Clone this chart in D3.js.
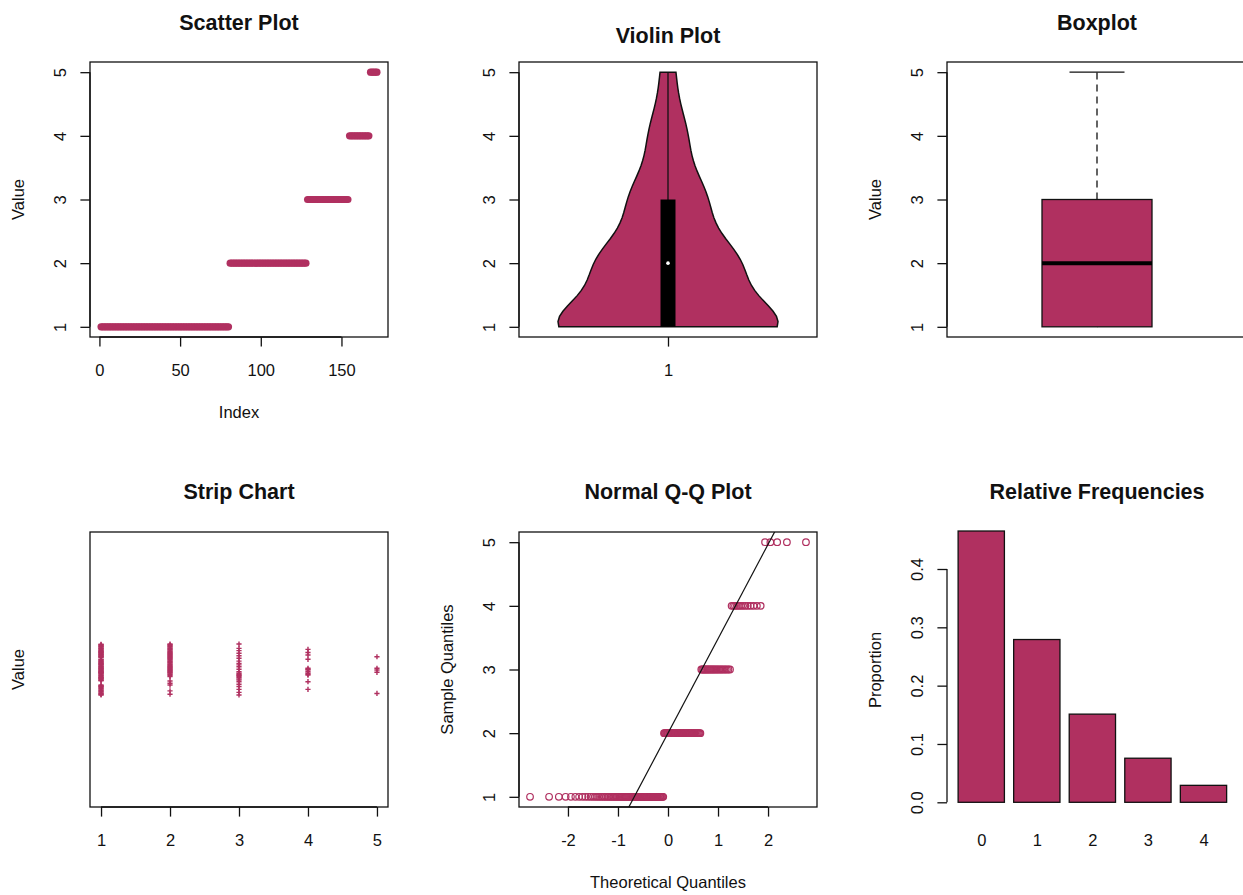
<!DOCTYPE html>
<html>
<head>
<meta charset="utf-8">
<script src="https://cdn.jsdelivr.net/npm/d3@7"></script>
<style>
  body { margin: 0; background: #fff; }
  svg { display: block; font-family: "Liberation Sans", Arial, sans-serif; }
</style>
</head>
<body>
<svg id="chart" width="1243" height="895"></svg>
<script>
// Observed values and how often each occurs (the series is stored in sorted order)
const levels = [1, 2, 3, 4, 5];
const counts = [80, 48, 26, 13, 5];

// Vertical jitter of the strip-chart markers, one list per level
const jitter1 = [0.099, 0.097, 0.094, 0.092, 0.090, 0.088, 0.085, 0.083, 0.081, 0.079,
  0.076, 0.074, 0.072, 0.069, 0.067, 0.065, 0.062, 0.060, 0.058, 0.055,
  0.053, 0.051, 0.049, 0.047, 0.040, 0.038, 0.035, 0.033, 0.031, 0.028,
  0.026, 0.024, 0.021, 0.019, 0.017, 0.014, 0.012, 0.010, 0.007, 0.005,
  0.003, 0.000, -0.002, -0.004, -0.007, -0.009, -0.011, -0.014, -0.016, -0.018,
  -0.021, -0.023, -0.025, -0.028, -0.030, -0.032, -0.035, -0.037, -0.039, -0.042,
  -0.044, -0.061, -0.064, -0.066, -0.068, -0.071, -0.074, -0.077, -0.080, -0.083,
  -0.086, -0.089, -0.092, -0.095, -0.098, -0.100, 0.070, 0.022, -0.012, -0.033];
const jitter2 = [0.100, 0.097, 0.094, 0.091, 0.088, 0.085, 0.082, 0.079, 0.076, 0.073,
  0.070, 0.067, 0.064, 0.061, 0.058, 0.055, 0.052, 0.049, 0.046, 0.043,
  0.040, 0.037, 0.034, 0.031, 0.028, 0.025, 0.022, 0.019, 0.016, 0.013,
  0.010, 0.007, 0.004, 0.001, -0.002, -0.005, -0.008, -0.011, -0.014, -0.017,
  -0.020, -0.024, -0.028, -0.045, -0.054, -0.061, -0.084, -0.097];
const jitter3 = [0.100, 0.083, 0.074, 0.064, 0.054, 0.044, 0.033, 0.024, 0.018, 0.011,
  0.001, -0.009, -0.015, -0.019, -0.022, -0.024, -0.028, -0.032, -0.037, -0.041,
  -0.048, -0.058, -0.067, -0.078, -0.090, -0.100];
const jitter4 = [0.079, 0.067, 0.057, 0.040, 0.005, 0.001, -0.002, -0.009, -0.015, -0.019,
  -0.022, -0.048, -0.078];
const jitter5 = [0.050, 0.005, -0.002, -0.011, -0.094];

// Tick values and labels
const indexTicks = [0, 50, 100, 150];
const valueTicks = [1, 2, 3, 4, 5];
const qqTicks = [-2, -1, 0, 1, 2];
const propTicks = [0, 0.1, 0.2, 0.3, 0.4];
const barLabels = ["0", "1", "2", "3", "4"];

const FILL = "#B03060";
const INK = "#111";
const TICK = 9.6;
const FS = 16.5;      // tick labels and axis titles
const FS_TITLE = 21.5;

// Panel grid
const colX = [90, 519, 947];
const rowY = [62, 532];
const PW = 298, PH = 275;

const svg = d3.select("#chart");

// Expanded, sorted series
const sample = levels.flatMap((v, i) => Array(counts[i]).fill(v));
const n = sample.length;
const jitters = [jitter1, jitter2, jitter3, jitter4, jitter5];
const plain = d => String(d);   // ASCII hyphen for negatives

function padded(lo, hi) {
  const p = 0.04 * (hi - lo);
  return [lo - p, hi + p];
}

function frame(x0, y0, w, h) {
  svg.append("rect").attr("x", x0).attr("y", y0).attr("width", w).attr("height", h)
    .attr("fill", "none").attr("stroke", INK).attr("stroke-width", 1.3);
}

function title(text, cx, baseline) {
  svg.append("text").attr("x", cx).attr("y", baseline).attr("text-anchor", "middle")
    .attr("font-weight", "bold").attr("font-size", FS_TITLE).attr("fill", INK).text(text);
}

function yTitle(text, axisX, cy) {
  svg.append("text").attr("transform", `translate(${axisX - 66},${cy}) rotate(-90)`)
    .attr("text-anchor", "middle").attr("font-size", FS).attr("fill", INK).text(text);
}

function xTitle(text, cx, axisY) {
  svg.append("text").attr("x", cx).attr("y", axisY + 81).attr("text-anchor", "middle")
    .attr("font-size", FS).attr("fill", INK).text(text);
}

// Left axis with labels parallel to the axis, line spanning first..last tick
function leftAxis(scale, ticks, x, fmt) {
  const g = svg.append("g").attr("transform", `translate(${x},0)`)
    .call(d3.axisLeft(scale).tickValues(ticks).tickSize(TICK).tickFormat(fmt || plain));
  g.select(".domain").remove();
  g.selectAll(".tick line").attr("stroke", INK).attr("stroke-width", 1.3);
  g.selectAll(".tick text").attr("x", null).attr("dy", null)
    .attr("transform", "translate(-24,0) rotate(-90)")
    .attr("text-anchor", "middle").attr("font-size", FS).attr("font-family", null).attr("fill", INK);
  g.append("line").attr("y1", scale(ticks[0])).attr("y2", scale(ticks[ticks.length - 1]))
    .attr("stroke", INK).attr("stroke-width", 1.3);
  return g;
}

function bottomAxis(scale, ticks, y, fmt, noTicks) {
  const g = svg.append("g").attr("transform", `translate(0,${y})`)
    .call(d3.axisBottom(scale).tickValues(ticks).tickSize(noTicks ? 0 : TICK).tickFormat(fmt || plain));
  g.select(".domain").remove();
  g.selectAll(".tick line").attr("stroke", INK).attr("stroke-width", 1.3);
  g.selectAll(".tick text").attr("y", 39).attr("dy", null)
    .attr("font-size", FS).attr("font-family", null).attr("fill", INK);
  if (!noTicks) {
    g.append("line").attr("x1", scale(ticks[0])).attr("x2", scale(ticks[ticks.length - 1]))
      .attr("stroke", INK).attr("stroke-width", 1.3);
  }
  return g;
}

// Inverse standard normal CDF (Acklam's rational approximation)
function qnorm(p) {
  const a = [-3.969683028665376e+01, 2.209460984245205e+02, -2.759285104469687e+02,
    1.383577518672690e+02, -3.066479806614716e+01, 2.506628277459239e+00];
  const b = [-5.447609879822406e+01, 1.615858368580409e+02, -1.556989798598866e+02,
    6.680131188771972e+01, -1.328068155288572e+01];
  const c = [-7.784894002430293e-03, -3.223964580411365e-01, -2.400758277161838e+00,
    -2.549732539343734e+00, 4.374664141464968e+00, 2.938163982698783e+00];
  const d = [7.784695709041462e-03, 3.224671290700398e-01, 2.445134137142996e+00,
    3.754408661907416e+00];
  const pl = 0.02425, ph = 1 - pl;
  let q, r;
  if (p < pl) {
    q = Math.sqrt(-2 * Math.log(p));
    return (((((c[0] * q + c[1]) * q + c[2]) * q + c[3]) * q + c[4]) * q + c[5]) /
      ((((d[0] * q + d[1]) * q + d[2]) * q + d[3]) * q + 1);
  }
  if (p > ph) {
    q = Math.sqrt(-2 * Math.log(1 - p));
    return -(((((c[0] * q + c[1]) * q + c[2]) * q + c[3]) * q + c[4]) * q + c[5]) /
      ((((d[0] * q + d[1]) * q + d[2]) * q + d[3]) * q + 1);
  }
  q = p - 0.5; r = q * q;
  return (((((a[0] * r + a[1]) * r + a[2]) * r + a[3]) * r + a[4]) * r + a[5]) * q /
    (((((b[0] * r + b[1]) * r + b[2]) * r + b[3]) * r + b[4]) * r + 1);
}

// ---------- Scatter plot ----------
{
  const x0 = colX[0], y0 = rowY[0];
  const x = d3.scaleLinear().domain(padded(1, n)).range([x0, x0 + PW]);
  const y = d3.scaleLinear().domain(padded(1, 5)).range([y0 + PH, y0]);
  svg.append("g").selectAll("circle").data(sample).join("circle")
    .attr("cx", (d, i) => x(i + 1)).attr("cy", d => y(d)).attr("r", 3.6).attr("fill", FILL);
  frame(x0, y0, PW, PH);
  leftAxis(y, valueTicks, x0);
  bottomAxis(x, indexTicks, y0 + PH);
  title("Scatter Plot", x0 + PW / 2, 30);
  yTitle("Value", x0, y0 + PH / 2);
  xTitle("Index", x0 + PW / 2, y0 + PH);
}

// ---------- Violin plot ----------
{
  const x0 = colX[1], y0 = rowY[0];
  const cx = x0 + PW / 2;
  const y = d3.scaleLinear().domain(padded(1, 5)).range([y0 + PH, y0]);
  // Gaussian kernel density, normal-reference bandwidth, evaluated on 50 points
  const h = 1.1 * d3.deviation(sample) * Math.pow(4 / (3 * n), 0.2);
  const lo = d3.min(sample), hi = d3.max(sample);
  const grid = d3.range(50).map(i => lo + (hi - lo) * i / 49);
  const dens = grid.map(g => d3.sum(sample, v => Math.exp(-0.5 * ((g - v) / h) ** 2)));
  const w = d3.scaleLinear().domain([0, d3.max(dens)]).range([0, 110]);
  const pts = grid.map((g, i) => ({ v: g, d: dens[i] }));
  svg.append("path").datum(pts)
    .attr("d", d3.area().x0(p => cx - w(p.d)).x1(p => cx + w(p.d)).y(p => y(p.v)))
    .attr("fill", FILL).attr("stroke", INK).attr("stroke-width", 1.5);
  const q1 = d3.quantile(sample, 0.25), q3 = d3.quantile(sample, 0.75), med = d3.median(sample);
  svg.append("line").attr("x1", cx).attr("x2", cx).attr("y1", y(lo)).attr("y2", y(hi))
    .attr("stroke", INK).attr("stroke-width", 1.3);
  svg.append("rect").attr("x", cx - 7.5).attr("width", 15).attr("y", y(q3)).attr("height", y(q1) - y(q3))
    .attr("fill", "#000");
  svg.append("circle").attr("cx", cx).attr("cy", y(med)).attr("r", 1.8).attr("fill", "#fff");
  frame(x0, y0, PW, PH);
  leftAxis(y, valueTicks, x0);
  const xs = d3.scaleLinear().domain([0.5, 1.5]).range([x0, x0 + PW]);
  bottomAxis(xs, [1], y0 + PH);
  title("Violin Plot", cx, 43);
}

// ---------- Boxplot ----------
{
  const x0 = colX[2], y0 = rowY[0];
  const cx = x0 + 150;
  const y = d3.scaleLinear().domain(padded(1, 5)).range([y0 + PH, y0]);
  const q1 = d3.quantile(sample, 0.25), q3 = d3.quantile(sample, 0.75), med = d3.median(sample);
  const iqr = q3 - q1;
  const upper = d3.max(sample.filter(v => v <= q3 + 1.5 * iqr));
  const lower = d3.min(sample.filter(v => v >= q1 - 1.5 * iqr));
  const bw = 110;
  svg.append("line").attr("x1", cx).attr("x2", cx).attr("y1", y(q3)).attr("y2", y(upper))
    .attr("stroke", INK).attr("stroke-width", 1.3).attr("stroke-dasharray", "7,5");
  svg.append("line").attr("x1", cx).attr("x2", cx).attr("y1", y(q1)).attr("y2", y(lower))
    .attr("stroke", INK).attr("stroke-width", 1.3).attr("stroke-dasharray", "7,5");
  svg.append("line").attr("x1", cx - bw / 4).attr("x2", cx + bw / 4).attr("y1", y(upper)).attr("y2", y(upper))
    .attr("stroke", INK).attr("stroke-width", 1.3);
  svg.append("rect").attr("x", cx - bw / 2).attr("width", bw).attr("y", y(q3)).attr("height", y(q1) - y(q3))
    .attr("fill", FILL).attr("stroke", INK).attr("stroke-width", 1.3);
  svg.append("line").attr("x1", cx - bw / 2).attr("x2", cx + bw / 2).attr("y1", y(med)).attr("y2", y(med))
    .attr("stroke", "#000").attr("stroke-width", 4);
  frame(x0, y0, PW + 2, PH);
  leftAxis(y, valueTicks, x0);
  title("Boxplot", cx, 30);
  yTitle("Value", x0, y0 + PH / 2);
}

// ---------- Strip chart ----------
{
  const x0 = colX[0], y0 = rowY[1];
  const x = d3.scaleLinear().domain(padded(1, 5)).range([x0, x0 + PW]);
  const y = d3.scaleLinear().domain([0.46, 1.54]).range([y0 + PH, y0]);
  const marks = levels.flatMap((v, i) => jitters[i].map(j => ({ v, j })));
  const g = svg.append("g").attr("stroke", FILL).attr("stroke-width", 1.4);
  g.selectAll("path").data(marks).join("path")
    .attr("d", m => {
      const px = x(m.v), py = y(1 + m.j), a = 2.6;
      return `M${px - a},${py}H${px + a}M${px},${py - a}V${py + a}`;
    });
  frame(x0, y0, PW, PH);
  bottomAxis(x, valueTicks, y0 + PH);
  title("Strip Chart", x0 + PW / 2, 499);
  yTitle("Value", x0, y0 + PH / 2);
}

// ---------- Normal Q-Q plot ----------
{
  const x0 = colX[1], y0 = rowY[1];
  const theo = sample.map((v, i) => qnorm((i + 0.5) / n));
  const x = d3.scaleLinear().domain(padded(...d3.extent(theo))).range([x0, x0 + PW]);
  const y = d3.scaleLinear().domain(padded(1, 5)).range([y0 + PH, y0]);
  svg.append("clipPath").attr("id", "qqclip").append("rect")
    .attr("x", x0).attr("y", y0).attr("width", PW).attr("height", PH);
  svg.append("g").selectAll("circle").data(sample).join("circle")
    .attr("cx", (d, i) => x(theo[i])).attr("cy", d => y(d)).attr("r", 3.3)
    .attr("fill", "none").attr("stroke", FILL).attr("stroke-width", 1.2);
  const yq = [d3.quantile(sample, 0.25), d3.quantile(sample, 0.75)];
  const xq = [qnorm(0.25), qnorm(0.75)];
  const slope = (yq[1] - yq[0]) / (xq[1] - xq[0]);
  const icpt = yq[0] - slope * xq[0];
  const xd = x.domain();
  svg.append("line").attr("clip-path", "url(#qqclip)")
    .attr("x1", x(xd[0])).attr("y1", y(icpt + slope * xd[0]))
    .attr("x2", x(xd[1])).attr("y2", y(icpt + slope * xd[1]))
    .attr("stroke", INK).attr("stroke-width", 1.2);
  frame(x0, y0, PW, PH);
  leftAxis(y, valueTicks, x0);
  bottomAxis(x, qqTicks, y0 + PH);
  title("Normal Q-Q Plot", x0 + PW / 2, 499);
  yTitle("Sample Quantiles", x0, y0 + PH / 2);
  xTitle("Theoretical Quantiles", x0 + PW / 2, y0 + PH);
}

// ---------- Relative frequencies ----------
{
  const x0 = colX[2];
  const rel = counts.map(c => c / n);
  // bars of width 1 separated by 0.2, as in a base bar plot
  const left = rel.map((r, i) => 0.2 + 1.2 * i);
  const x = d3.scaleLinear().domain(padded(0.2, 0.2 + 1.2 * rel.length)).range([x0, x0 + 300]);
  const y = d3.scaleLinear().domain([0, 0.4]).range([802.3, 569]);
  svg.append("g").selectAll("rect").data(rel).join("rect")
    .attr("x", (r, i) => x(left[i])).attr("width", (r, i) => x(left[i] + 1) - x(left[i]))
    .attr("y", r => y(r)).attr("height", r => y(0) - y(r))
    .attr("fill", FILL).attr("stroke", INK).attr("stroke-width", 1.3);
  leftAxis(y, propTicks, x0, d3.format(".1f"));
  const centers = left.map(l => l + 0.5);
  bottomAxis(x, centers, 807, (d, i) => barLabels[i], true);
  title("Relative Frequencies", x0 + 150, 499);
  yTitle("Proportion", x0, 670);
}
</script>
</body>
</html>
